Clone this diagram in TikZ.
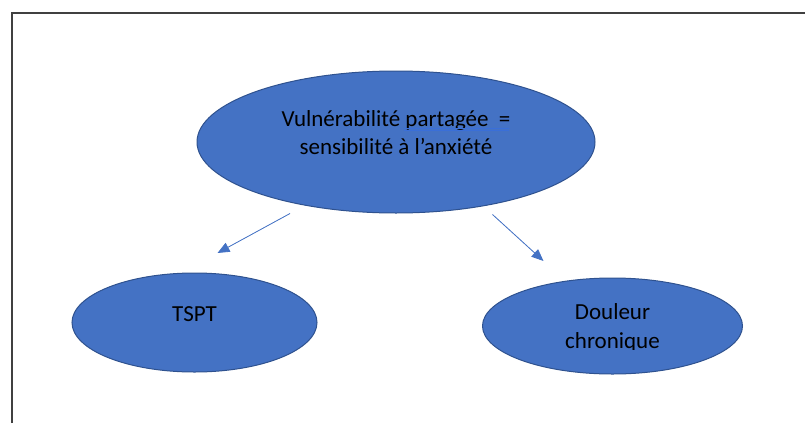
\documentclass[tikz,border=0pt]{standalone}
\usepackage{fontspec}
\setmainfont{Carlito}
\usetikzlibrary{shapes.geometric,arrows.meta}
\definecolor{officeblue}{HTML}{4472C4}
\definecolor{officeedge}{HTML}{2F528F}
\definecolor{framegray}{HTML}{404040}
\definecolor{markblue}{HTML}{3A6FD8}

\begin{document}
\begin{tikzpicture}[x=1pt, y=-1pt, >={Triangle[length=12pt,width=10pt]},
  blob/.style={ellipse, draw=officeedge, line width=1pt, fill=officeblue, inner sep=0pt, outer sep=0pt},
  lbl/.style={font=\fontsize{23}{28.7}\selectfont, align=center, text=black, inner sep=0pt},
  link/.style={->, draw=officeblue, fill=officeblue, line width=0.8pt}]
 \useasboundingbox (0,0) rectangle (805,423);
 % frame
 \draw [framegray, line width=2pt] (11.5,423) -- (11.5,12.5) -- (805,12.5);

 % ellipses
 \node [blob, minimum width=398pt, minimum height=142pt,
   label={[lbl, yshift=9.5pt]center:Vulnérabilité partagée\ \ =\\sensibilité à l’anxiété}] (vuln) at (396,142) {};
 \node [blob, minimum width=245pt, minimum height=99pt,
   label={[lbl, yshift=7.9pt]center:TSPT}] (tspt) at (194.5,322.5) {};
 \node [blob, minimum width=260pt, minimum height=96pt] (pain) at (612.5,326) {};
 \begin{scope}
  \clip (480,290) rectangle (745,349.5);
  \node [lbl, anchor=base] (painlbl) at ([yshift=-22.3pt]pain.center) {Douleur\\chronique};
 \end{scope}

 % grammar mark
 \draw [markblue, line width=0.6pt] (403.5,128.7) -- (508.5,128.7);
 \draw [markblue, line width=0.6pt] (403.5,130.4) -- (508.5,130.4);

 % arrows
 \coordinate (lstart) at (290,213.5);
 \coordinate (lend) at (217.5,253);
 \coordinate (rstart) at (492.5,214.5);
 \coordinate (rend) at (543.5,261);
 \draw [link] (lstart) -- (lend);
 \draw [link] (rstart) -- (rend);
\end{tikzpicture}
\end{document}
